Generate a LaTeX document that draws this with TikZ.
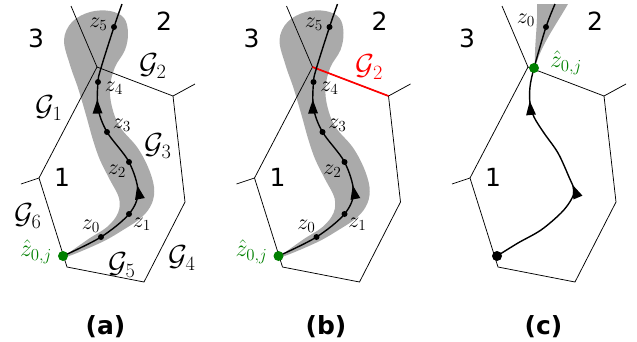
\RequirePackage{fix-cm}
\documentclass[tikz,border=0pt]{standalone}
\usepackage{fontspec}
\newfontfamily\dejavu{DejaVu Sans}
\usepackage{tikz}
\usetikzlibrary{arrows.meta,decorations.markings}
\definecolor{hatgreen}{RGB}{0,128,0}
\definecolor{tubegrey}{RGB}{170,170,170}
\definecolor{cutred}{RGB}{255,0,0}
\tikzset{
  celledge/.style={draw=black,line width=0.75pt},
  trackline/.style={draw=black,line width=1.4pt},
  cutline/.style={draw=cutred,line width=1.7pt},
  regionfont/.style={font=\dejavu\fontsize{25}{25}\selectfont},
  capfont/.style={font=\dejavu\bfseries\fontsize{25}{25}\selectfont},
  setfont/.style={font=\fontsize{29}{29}\selectfont,inner sep=0pt},
  ptfont/.style={font=\fontsize{22}{22}\selectfont,inner sep=0pt},
  hatfont/.style={font=\fontsize{24}{24}\selectfont,text=hatgreen,inner sep=0pt},
  ptdot/.style={circle,fill=black,inner sep=0pt,minimum size=6pt},
  bigdot/.style={circle,fill=#1,inner sep=0pt,minimum size=10pt},
  midtips/.style 2 args={postaction={decorate},decoration={markings,
      mark=at position #1 with {\arrow{Triangle[length=14pt,width=9.5pt]}},
      mark=at position #2 with {\arrow{Triangle[length=14pt,width=9.5pt]}}}},
}
% cell 1 with its neighbours
\newcommand{\cellpoly}[1]{%
  \coordinate (#1-top) at (97,67);
  \coordinate (#1-ru) at (173,96);
  \coordinate (#1-rl) at (185,202);
  \coordinate (#1-br) at (144,282);
  \coordinate (#1-bl) at (67,267);
  \coordinate (#1-lf) at (39,178);
  \coordinate (#1-o3) at (71,6);
  \coordinate (#1-or) at (195,84);
  \coordinate (#1-ol) at (21,184);
  \draw[celledge] (#1-top) -- (#1-ru) -- (#1-rl) -- (#1-br) -- (#1-bl) -- (#1-lf) -- cycle;
  \draw[celledge] (#1-top) -- (#1-o3) (#1-ru) -- (#1-or) (#1-lf) -- (#1-ol);
}
\newcommand{\regions}[1]{%
  \node[regionfont] (#1-r3) at (36,38) {3};
  \node[regionfont] (#1-r2) at (164,21) {2};
  \node[regionfont] (#1-r1) at (62,177) {1};
}
\newcommand{\ztube}{%
  \fill[tubegrey] plot[smooth cycle,tension=0.6] coordinates {
    (65,257) (100,243) (123,230) (142,217) (152,203) (154,187) (148,167)
    (137,147) (120,127) (112,107) (110,87) (115,67) (125,50) (128,33)
    (124,18) (110,11) (90,12) (72,22) (64,40) (70,65) (78,88) (86,115)
    (93,140) (100,160) (110,180) (119,198) (118,213) (107,227) (87,240)};
}
% the z-track of panels (a) and (b)
\newcommand{\ztrack}[1]{%
  \coordinate (#1-hat) at (63,256);
  \coordinate (#1-z0) at (101,237);
  \coordinate (#1-z1) at (129,214);
  \coordinate (#1-z2) at (129,162);
  \coordinate (#1-z3) at (107,132);
  \coordinate (#1-z4) at (98,82);
  \coordinate (#1-z5) at (114,27);
  \coordinate (#1-end) at (122,4);
  \draw[trackline,midtips={0.36}{0.675}] plot[smooth,tension=0.55] coordinates {
    (#1-hat) (#1-z0) (#1-z1) (138,192) (#1-z2) (#1-z3) (98,108)
    (#1-z4) (101,68) (#1-z5) (#1-end)};
  \foreach \k in {0,...,5}{\node[ptdot] (#1-d\k) at (#1-z\k) {};}
  \node[bigdot=hatgreen] (#1-dh) at (#1-hat) {};
  \node[ptfont] (#1-l5) at (98.5,24) {$z_5$};
  \node[ptfont] (#1-l4) at (114,88) {$z_4$};
  \node[ptfont] (#1-l3) at (122,125) {$z_3$};
  \node[ptfont] (#1-l2) at (117,171) {$z_2$};
  \node[ptfont] (#1-l1) at (142,224) {$z_1$};
  \node[ptfont] (#1-l0) at (91,226) {$z_0$};
  \node[hatfont] (#1-lh) at (36,252) {$\hat{z}_{0,j}$};
}

\begin{document}
\begin{tikzpicture}[x=1pt,y=-1pt]
  \useasboundingbox (0,0) rectangle (637,341);
  % (a)
  \begin{scope}
    \ztube
    \cellpoly{a}
    \ztrack{a}
    \regions{a}
    \node[setfont] (ag1) at (49,108) {$\mathcal{G}_1$};
    \node[setfont] (ag2) at (153,66) {$\mathcal{G}_2$};
    \node[setfont] (ag3) at (158,146) {$\mathcal{G}_3$};
    \node[setfont] (ag4) at (182,258) {$\mathcal{G}_4$};
    \node[setfont] (ag5) at (122,265) {$\mathcal{G}_5$};
    \node[setfont] (ag6) at (28,216) {$\mathcal{G}_6$};
  \end{scope}
  % (b)
  \begin{scope}[xshift=215.5pt]
    \ztube
    \cellpoly{b}
    \draw[cutline] (b-top) -- (b-ru);
    \ztrack{b}
    \regions{b}
    \node[setfont,text=cutred] (bg2) at (154,67) {$\mathcal{G}_2$};
  \end{scope}
  % (c)
  \begin{scope}[xshift=431pt]
    \fill[tubegrey] (106,4) -- (137,4) .. controls (125,25) and (108,48) .. (104,69)
      .. controls (103,45) and (107,25) .. cycle;
    \cellpoly{c}
    \coordinate (c-start) at (66,256);
    \coordinate (c-hat) at (103,68);
    \coordinate (c-z0) at (115,27);
    \draw[trackline,midtips={0.36}{0.67}] plot[smooth,tension=0.55] coordinates {
      (c-start) (87,243) (110,230) (130,213) (140,200) (143,190) (138,177)
      (127,153) (113,133) (103,117) (99,103) (99,87) (c-hat) (c-z0) (124,4)};
    \node[ptdot] (c-d0) at (c-z0) {};
    \node[bigdot=black] (c-ds) at (c-start) {};
    \node[bigdot=hatgreen] (c-dh) at (c-hat) {};
    \regions{c}
    \node[ptfont] (c-l0) at (95,20) {$z_0$};
    \node[hatfont] (c-lh) at (135,63) {$\hat{z}_{0,j}$};
  \end{scope}
  \node[capfont] (capa) at (105.5,327) {(a)};
  \node[capfont] (capb) at (326,327) {(b)};
  \node[capfont] (capc) at (543.5,327) {(c)};
\end{tikzpicture}
\end{document}
